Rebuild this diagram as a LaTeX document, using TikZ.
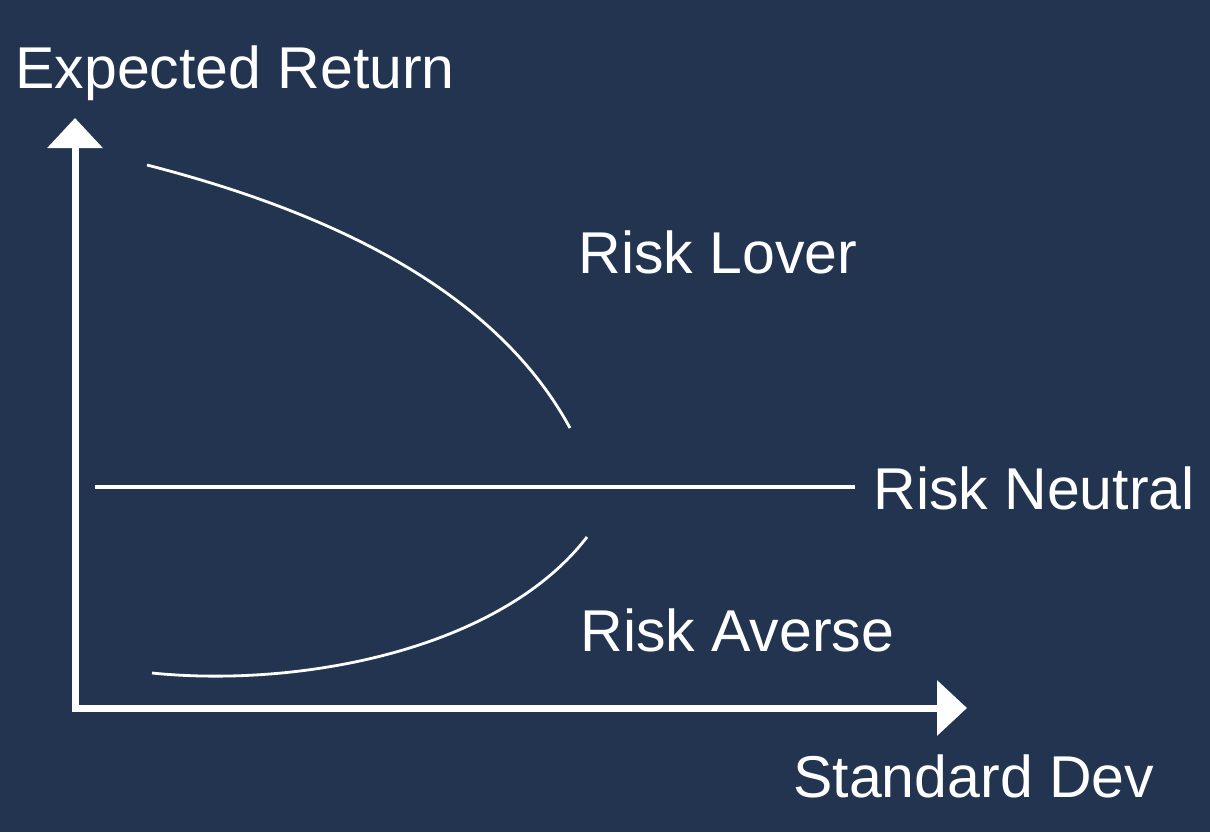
\documentclass[tikz,border=0pt]{standalone}
\usepackage{fontspec}
\setmainfont{Liberation Sans}
\usetikzlibrary{arrows.meta}
\definecolor{bgnavy}{RGB}{34,52,80}
\begin{document}
\begin{tikzpicture}[x=0.5pt,y=-0.5pt,
  axisline/.style={draw=white,line width=3.5pt,-{Triangle[width=27pt,length=15pt]}},
  neutralline/.style={draw=white,line width=2.4pt},
  curveline/.style={draw=white,line width=1.4pt},
  lbl/.style={text=white,font=\fontsize{29.5}{35}\selectfont,anchor=base west,inner sep=0pt}]
\fill[bgnavy] (0,0) rectangle (1210,832);
\useasboundingbox (0,0) rectangle (1210,832);
\coordinate (origin) at (75,708);
\coordinate (ytip) at (75,118);
\coordinate (xtip) at (967,708);
\draw[axisline] ([xshift=-1.75pt]origin) -- (xtip);
\draw[axisline] ([yshift=-1.75pt]origin) -- (ytip);
\coordinate (nstart) at (95,487);
\coordinate (nend) at (855,487);
\draw[neutralline] (nstart) -- (nend);
\coordinate (lstart) at (147,165);
\coordinate (lend) at (570,428);
\draw[curveline] (lstart) .. controls (330,212) and (495,290) .. (lend);
\coordinate (astart) at (152,673);
\coordinate (aend) at (587,537);
\draw[curveline] (astart) .. controls (300,688) and (500,650) .. (aend);
\node[lbl] (ylabel) at (15,88) {Expected Return};
\node[lbl] (lover) at (578,273) {Risk Lover};
\node[lbl] (neutral) at (873,509) {Risk Neutral};
\node[lbl] (averse) at (580,651) {Risk Averse};
\node[lbl] (xlabel) at (793,797) {Standard Dev};
\end{tikzpicture}
\end{document}
